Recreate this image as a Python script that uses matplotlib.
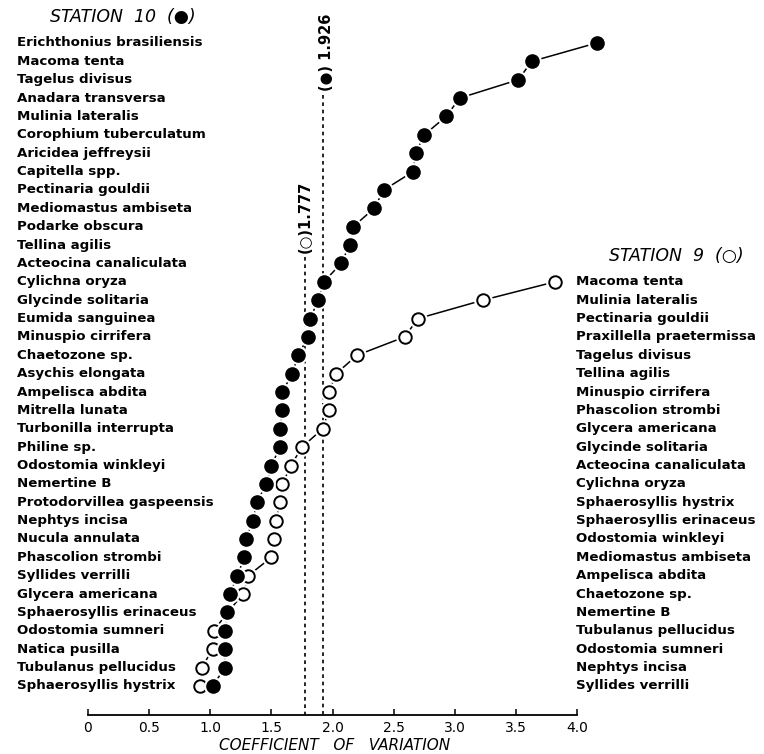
import matplotlib
matplotlib.use('Agg')
import matplotlib.pyplot as plt
import matplotlib.transforms as mtransforms

# ---------------- data ----------------
st10_species = [
    "Erichthonius brasiliensis", "Macoma tenta", "Tagelus divisus", "Anadara transversa",
    "Mulinia lateralis", "Corophium tuberculatum", "Aricidea jeffreysii", "Capitella spp.",
    "Pectinaria gouldii", "Mediomastus ambiseta", "Podarke obscura", "Tellina agilis",
    "Acteocina canaliculata", "Cylichna oryza", "Glycinde solitaria", "Eumida sanguinea",
    "Minuspio cirrifera", "Chaetozone sp.", "Asychis elongata", "Ampelisca abdita",
    "Mitrella lunata", "Turbonilla interrupta", "Philine sp.", "Odostomia winkleyi",
    "Nemertine B", "Protodorvillea gaspeensis", "Nephtys incisa", "Nucula annulata",
    "Phascolion strombi", "Syllides verrilli", "Glycera americana", "Sphaerosyllis erinaceus",
    "Odostomia sumneri", "Natica pusilla", "Tubulanus pellucidus", "Sphaerosyllis hystrix",
]
st10_cv = [
    4.16, 3.63, 3.52, 3.04, 2.93, 2.75, 2.68, 2.66, 2.42, 2.34, 2.17, 2.14,
    2.07, 1.93, 1.88, 1.82, 1.80, 1.72, 1.67, 1.59, 1.59, 1.57, 1.57, 1.50,
    1.46, 1.38, 1.35, 1.29, 1.28, 1.22, 1.16, 1.14, 1.12, 1.12, 1.12, 1.02,
]

st9_species = [
    "Macoma tenta", "Mulinia lateralis", "Pectinaria gouldii", "Praxillella praetermissa",
    "Tagelus divisus", "Tellina agilis", "Minuspio cirrifera", "Phascolion strombi",
    "Glycera americana", "Glycinde solitaria", "Acteocina canaliculata", "Cylichna oryza",
    "Sphaerosyllis hystrix", "Sphaerosyllis erinaceus", "Odostomia winkleyi",
    "Mediomastus ambiseta", "Ampelisca abdita", "Chaetozone sp.", "Nemertine B",
    "Tubulanus pellucidus", "Odostomia sumneri", "Nephtys incisa", "Syllides verrilli",
]
st9_cv = [
    3.82, 3.23, 2.70, 2.59, 2.20, 2.03, 1.97, 1.97, 1.92, 1.75, 1.66, 1.59,
    1.57, 1.54, 1.52, 1.50, 1.31, 1.27, 1.14, 1.03, 1.02, 0.93, 0.92,
]

st10_mean = 1.926
st9_mean = 1.777
x_ticks = [0, 0.5, 1.0, 1.5, 2.0, 2.5, 3.0, 3.5, 4.0]
x_tick_labels = ["0", "0.5", "1.0", "1.5", "2.0", "2.5", "3.0", "3.5", "4.0"]

# ---------------- figure ----------------
W, H = 764, 754
fig = plt.figure(figsize=(W / 100, H / 100), dpi=100)
ax = fig.add_axes([88 / W, (H - 715) / H, 489 / W, 715 / H])

row_px = 18.37
top_px = 43
ax.set_xlim(0, 4.0)
ax.set_ylim((715 - top_px) / row_px, -top_px / row_px)

rows10 = list(range(len(st10_cv)))
offset9 = len(st10_cv) - len(st9_cv)
rows9 = [offset9 + i for i in range(len(st9_cv))]

# connecting lines
ax.plot(st9_cv, rows9, color='black', lw=1.1, zorder=2, clip_on=False)
ax.plot(st10_cv, rows10, color='black', lw=1.1, zorder=2, clip_on=False)
# white halos to create small gaps
ax.plot(st9_cv, rows9, ls='none', marker='o', ms=12.5, mfc='white', mec='white', zorder=3, clip_on=False)
ax.plot(st9_cv, rows9, ls='none', marker='o', ms=9.0, mfc='white', mec='black', mew=1.4, zorder=4, clip_on=False)
ax.plot(st10_cv, rows10, ls='none', marker='o', ms=12.5, mfc='white', mec='white', zorder=5, clip_on=False)
ax.plot(st10_cv, rows10, ls='none', marker='o', ms=9.5, mfc='black', mec='black', zorder=6, clip_on=False)

# mean dotted lines
ybot = ax.get_ylim()[0]
ax.vlines(st10_mean, (95 - top_px) / row_px, ybot, colors='black', linestyles=(0, (2.2, 2.2)), lw=1.2, zorder=1)
ax.vlines(st9_mean, (257 - top_px) / row_px, ybot, colors='black', linestyles=(0, (2.2, 2.2)), lw=1.2, zorder=1)
ax.text(st10_mean + 0.025, (91 - top_px) / row_px, "(\u25CF) 1.926", rotation=90, ha='center', va='bottom',
        fontsize=10.5, fontweight='bold')
ax.text(st9_mean, (253 - top_px) / row_px, "(\u25CB)1.777", rotation=90, ha='center', va='bottom',
        fontsize=10.5, fontweight='bold')

# axis styling
for s in ['left', 'top', 'right']:
    ax.spines[s].set_visible(False)
ax.spines['bottom'].set_linewidth(1.3)
ax.set_yticks([])
ax.set_xticks(x_ticks)
ax.set_xticklabels(x_tick_labels)
ax.tick_params(axis='x', direction='in', length=4, width=1.1, pad=4, labelsize=10)

# species labels
trans = mtransforms.blended_transform_factory(fig.transFigure, ax.transData)
for r, name in zip(rows10, st10_species):
    ax.text(17 / W, r, name, transform=trans, ha='left', va='center', fontsize=9.6, fontweight='bold', clip_on=False)
for r, name in zip(rows9, st9_species):
    ax.text(576 / W, r, name, transform=trans, ha='left', va='center', fontsize=9.6, fontweight='bold', clip_on=False)

# titles
fig.text(50 / W, 1 - 17 / H, "STATION  10  (\u25CF)", ha='left', va='center', fontsize=12.5, style='italic')
fig.text(609 / W, 1 - 256 / H, "STATION  9  (\u25CB)", ha='left', va='center', fontsize=12.5, style='italic')
fig.text(335 / W, 1 - 746 / H, "COEFFICIENT   OF   VARIATION", ha='center', va='center', fontsize=11, style='italic')

fig.savefig("out.png", dpi=100)
